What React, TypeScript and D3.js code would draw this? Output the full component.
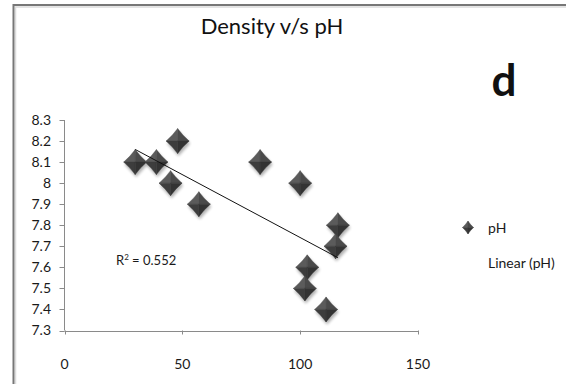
import React, { useEffect, useRef } from "react";
import * as d3 from "d3";

// Density (x) and pH (y) observations
const density = [30, 39, 48, 45, 57, 83, 100, 116, 115, 103, 102, 111];
const ph = [8.1, 8.1, 8.2, 8.0, 7.9, 8.1, 8.0, 7.8, 7.7, 7.6, 7.5, 7.4];

const xTicks = [0, 50, 100, 150];
const yTicks = [7.3, 7.4, 7.5, 7.6, 7.7, 7.8, 7.9, 8.0, 8.1, 8.2, 8.3];

const title = "Density v/s pH";
const panelLetter = "d";
const seriesName = "pH";
const trendName = "Linear (pH)";

const W = 566;
const H = 384;
const FONT = "Lato, 'Open Sans', sans-serif";

function diamond(g: d3.Selection<SVGGElement, unknown, null, undefined>, cx: number, cy: number, hw: number, hh: number, withShadow: boolean) {
  const k = 0.12; // slight pinch of the edges
  const faces: [number, number, number, number, string][] = [
    [0, -hh, -hw, 0, "#5b5b5b"],
    [0, -hh, hw, 0, "#4a4a4a"],
    [0, hh, -hw, 0, "#3d3d3d"],
    [0, hh, hw, 0, "#333333"],
  ];
  const grp = g.append("g").attr("transform", `translate(${cx},${cy})`);
  if (withShadow) {
    grp
      .append("path")
      .attr("d", `M0,${-hh}L${hw},0L0,${hh}L${-hw},0Z`)
      .attr("transform", "translate(1,2.5)")
      .attr("fill", "#000")
      .attr("opacity", 0.3)
      .attr("filter", "url(#mshadow)");
  }
  faces.forEach(([ax, ay, bx, by, fill]) => {
    const mx = (ax + bx) / 2;
    const my = (ay + by) / 2;
    grp
      .append("path")
      .attr("d", `M0,0L${ax},${ay}Q${mx * (1 - k)},${my * (1 - k)} ${bx},${by}Z`)
      .attr("fill", fill)
      .attr("stroke", fill)
      .attr("stroke-width", 0.4);
  });
}

export default function App() {
  const ref = useRef<SVGSVGElement>(null);

  useEffect(() => {
    const svg = d3.select(ref.current!);
    svg.selectAll("*").remove();

    const defs = svg.append("defs");
    defs
      .append("filter")
      .attr("id", "mshadow")
      .attr("x", "-50%")
      .attr("y", "-50%")
      .attr("width", "200%")
      .attr("height", "200%")
      .append("feGaussianBlur")
      .attr("stdDeviation", 1.5);

    svg.append("rect").attr("width", W).attr("height", H).attr("fill", "#fff");

    // chart frame
    svg
      .append("rect")
      .attr("x", 15.5)
      .attr("y", 7)
      .attr("width", 700)
      .attr("height", 500)
      .attr("fill", "none")
      .attr("stroke", "#dcdcdc")
      .attr("stroke-width", 1.5);
    svg
      .append("rect")
      .attr("x", 13.5)
      .attr("y", 5)
      .attr("width", 700)
      .attr("height", 500)
      .attr("fill", "none")
      .attr("stroke", "#777")
      .attr("stroke-width", 2);

    const x = d3.scaleLinear().domain([0, 150]).range([64.5, 418]);
    const y = d3.scaleLinear().domain([7.3, 8.3]).range([330.5, 120]);

    const axisColor = "#8a8a8a";
    const textColor = "#1a1a1a";
    const g = svg.append("g");

    // y axis
    g.append("line")
      .attr("x1", x(0))
      .attr("x2", x(0))
      .attr("y1", y(8.3))
      .attr("y2", y(7.3))
      .attr("stroke", axisColor);
    yTicks.forEach((t) => {
      g.append("line")
        .attr("x1", x(0) - 5)
        .attr("x2", x(0))
        .attr("y1", Math.round(y(t)) + 0.5)
        .attr("y2", Math.round(y(t)) + 0.5)
        .attr("stroke", axisColor);
      g.append("text")
        .attr("x", 51)
        .attr("y", y(t))
        .attr("dy", "0.35em")
        .attr("text-anchor", "end")
        .attr("font-family", FONT)
        .attr("font-size", 14)
        .attr("fill", textColor)
        .text(String(Math.round(t * 10) / 10));
    });

    // x axis
    g.append("line")
      .attr("x1", x(0))
      .attr("x2", x(150))
      .attr("y1", Math.round(y(7.3)) + 0.5)
      .attr("y2", Math.round(y(7.3)) + 0.5)
      .attr("stroke", axisColor);
    xTicks.forEach((t) => {
      g.append("line")
        .attr("x1", Math.round(x(t)) + 0.5)
        .attr("x2", Math.round(x(t)) + 0.5)
        .attr("y1", y(7.3))
        .attr("y2", y(7.3) + 4)
        .attr("stroke", axisColor);
      g.append("text")
        .attr("x", x(t))
        .attr("y", 369)
        .attr("text-anchor", "middle")
        .attr("font-family", FONT)
        .attr("font-size", 14)
        .attr("fill", textColor)
        .text(String(t));
    });

    // points
    const pts = g.append("g");
    density.forEach((d, i) => diamond(pts as any, x(d), y(ph[i]), 11.5, 12.5, true));

    // least-squares trendline
    const mx = d3.mean(density)!;
    const my = d3.mean(ph)!;
    let sxy = 0,
      sxx = 0,
      syy = 0;
    density.forEach((d, i) => {
      sxy += (d - mx) * (ph[i] - my);
      sxx += (d - mx) ** 2;
      syy += (ph[i] - my) ** 2;
    });
    const slope = sxy / sxx;
    const icpt = my - slope * mx;
    const r2 = (sxy * sxy) / (sxx * syy);
    const [x0, x1] = d3.extent(density) as [number, number];
    g.append("line")
      .attr("x1", x(x0))
      .attr("y1", y(icpt + slope * x0))
      .attr("x2", x(x1))
      .attr("y2", y(icpt + slope * x1))
      .attr("stroke", "#111")
      .attr("stroke-width", 1);

    const r2Text = g
      .append("text")
      .attr("x", 116)
      .attr("y", 265)
      .attr("font-family", FONT)
      .attr("font-size", 13)
      .attr("fill", textColor);
    r2Text.append("tspan").text("R");
    r2Text.append("tspan").attr("font-size", 8).attr("dy", -5).text("2");
    r2Text
      .append("tspan")
      .attr("dy", 5)
      .text(` = ${(Math.floor(r2 * 1000) / 1000).toFixed(3)}`);

    // title & panel letter
    svg
      .append("text")
      .attr("x", 272)
      .attr("y", 34)
      .attr("text-anchor", "middle")
      .attr("font-family", FONT)
      .attr("font-size", 22)
      .attr("fill", "#111")
      .text(title);
    svg
      .append("text")
      .attr("x", 504)
      .attr("y", 96)
      .attr("text-anchor", "middle")
      .attr("font-family", FONT)
      .attr("font-weight", "bold")
      .attr("font-size", 44)
      .attr("fill", "#111")
      .text(panelLetter);

    // legend
    const lg = svg.append("g");
    diamond(lg as any, 468, 227.5, 5.5, 6.5, false);
    lg.append("text")
      .attr("x", 488)
      .attr("y", 233)
      .attr("font-family", FONT)
      .attr("font-size", 14)
      .attr("fill", textColor)
      .text(seriesName);
    lg.append("text")
      .attr("x", 488)
      .attr("y", 268)
      .attr("font-family", FONT)
      .attr("font-size", 14)
      .attr("fill", textColor)
      .text(trendName);
  }, []);

  return (
    <svg
      ref={ref}
      width={W}
      height={H}
      style={{ position: "absolute", left: 0, top: 0, display: "block" }}
    />
  );
}
